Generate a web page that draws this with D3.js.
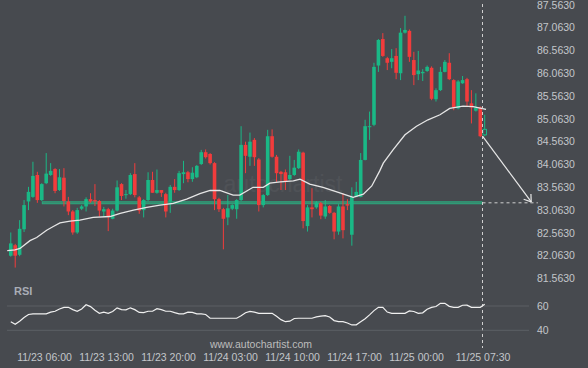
<!DOCTYPE html>
<html>
<head>
<meta charset="utf-8">
<script src="https://cdn.jsdelivr.net/npm/d3@7"></script>
<style>
  html, body { margin: 0; padding: 0; background: #474a4f; }
  svg { display: block; font-family: "Liberation Sans", Arial, sans-serif; }
</style>
</head>
<body>
<div id="chart"></div>
<script>
// 30 minute bars, first bar opens 11/23 02:00
const firstBarTime = "2023-11-23T02:00";
const barMinutes = 30;

const opens = [82.06,82.29,82.08,82.64,83.25,83.35,83.83,83.28,83.65,83.83,
  83.96,83.50,83.77,83.25,83.03,82.57,83.09,83.14,83.30,83.28,
  83.26,83.03,83.08,82.87,83.05,83.63,83.39,83.41,83.85,83.34,
  83.06,83.28,83.72,83.44,83.50,83.41,83.25,83.57,83.50,83.85,
  83.89,83.74,83.78,84.07,84.33,84.29,84.09,83.30,83.08,82.90,
  83.09,83.08,83.28,84.49,84.23,84.60,84.17,83.17,83.39,84.68,
  84.23,83.90,83.89,83.74,83.83,83.98,84.32,82.71,83.12,83.12,
  83.21,82.92,83.15,83.00,82.59,83.14,83.19,82.52,83.35,83.35,
  84.16,84.89,84.93,86.23,86.81,86.39,86.31,86.44,86.06,86.95,
  86.99,86.35,86.04,86.06,86.11,86.18,85.49,85.69,86.09,86.29,
  85.91,85.29,85.84,85.93,85.40,85.24,85.31,84.71];
const highs = [82.57,82.32,82.84,83.28,83.57,84.12,83.90,83.65,84.31,84.09,
  83.98,83.96,83.98,83.35,83.06,83.11,83.17,83.34,83.43,83.63,
  83.28,83.13,83.11,83.09,83.71,83.65,83.50,83.87,84.09,83.37,
  83.30,83.89,83.90,83.95,83.50,83.44,83.61,83.74,83.92,84.14,
  83.92,84.00,84.05,84.38,84.39,84.31,84.11,83.33,83.11,83.39,
  83.19,83.30,84.90,84.56,84.76,84.64,84.20,83.41,84.82,84.83,
  84.27,83.92,83.95,84.25,84.16,84.39,84.34,83.17,83.54,83.26,
  83.24,83.28,83.17,83.02,83.19,83.43,83.30,83.56,83.68,84.31,
  85.04,85.22,86.29,86.81,86.94,86.42,86.59,86.61,87.05,87.32,
  87.02,86.53,86.55,86.15,86.23,86.21,85.73,86.20,86.35,86.50,
  85.93,85.91,86.00,85.96,85.69,85.62,85.33,85.15];
const lows = [82.04,81.80,82.05,82.58,83.06,83.33,83.22,83.26,83.63,83.81,
  83.43,83.48,83.14,82.95,82.52,82.54,83.06,83.03,83.22,83.15,
  82.92,82.92,82.60,82.86,83.03,83.28,83.31,83.39,83.34,82.98,
  82.90,83.26,83.44,83.42,83.35,82.90,83.00,83.44,83.48,83.65,
  83.67,83.68,83.76,84.05,84.19,84.06,83.06,83.02,82.20,82.73,
  83.06,82.87,83.26,83.87,84.03,84.03,83.03,83.12,83.37,84.21,
  83.68,83.50,83.50,83.72,83.81,83.96,82.66,82.59,82.90,83.09,
  82.86,82.87,82.98,82.42,82.52,82.44,83.06,82.28,83.34,83.34,
  84.15,84.60,84.90,86.09,86.42,86.13,86.17,85.93,85.91,86.93,
  86.31,85.80,85.91,85.89,86.09,85.47,85.44,85.67,86.08,85.91,
  85.25,85.27,85.83,85.34,84.96,85.22,84.66,84.68];
const closes = [82.33,82.06,82.65,83.17,83.46,83.81,83.28,83.63,83.86,83.92,
  83.48,83.78,83.26,83.03,82.57,83.06,83.14,83.30,83.25,83.25,
  83.05,83.08,82.92,83.05,83.56,83.37,83.41,83.83,83.39,83.05,
  83.28,83.72,83.44,83.50,83.44,83.03,83.57,83.50,83.87,83.89,
  83.74,83.88,84.03,84.33,84.22,84.09,83.30,83.08,82.87,83.10,
  83.17,83.28,84.49,84.25,84.56,84.22,83.17,83.39,84.68,84.23,
  83.87,83.85,83.68,83.83,83.99,84.34,82.82,83.12,83.08,83.23,
  82.94,83.14,83.00,82.59,83.14,82.62,83.16,83.35,83.46,84.16,
  84.90,84.90,86.20,86.79,86.44,86.29,86.39,86.07,86.95,87.01,
  86.42,86.02,86.12,86.09,86.20,85.50,85.69,86.09,86.31,85.93,
  85.31,85.88,85.91,85.44,85.31,85.31,84.68,84.83];

// moving average, read at bar positions
const maBar = [-0.8,0.95,2.08,4.33,5.85,8.1,9.6,11.1,13.4,15.6,
  18.6,22.4,24.7,27.7,30.7,33.7,36.7,39.7,42.7,45.0,
  47.2,50.2,51.7,54.7,57.0,58.5,60.8,63.8,65.3,67.5,
  70.5,73.6,75.8,77.3,79.6,81.5,83.3,84.1,86.3,89.0,
  91.6,94.2,96.9,99.1,102.1,104.4,107.3];
const maValue = [82.17,82.19,82.22,82.39,82.46,82.62,82.70,82.78,82.82,82.84,
  82.90,82.92,82.99,83.06,83.12,83.17,83.21,83.30,83.42,83.49,
  83.49,83.39,83.39,83.56,83.56,83.65,83.68,83.70,83.74,83.63,
  83.56,83.46,83.39,83.34,83.41,83.59,83.92,84.09,84.38,84.71,
  84.90,85.04,85.15,85.29,85.34,85.33,85.27];

const rsi = [47,45,47.5,50.5,53,53.5,53.5,53.5,53.5,55,
  55.7,57.5,58.9,58.9,57,55.7,57.5,61,59.5,56.5,
  54,55,54,55.5,58.5,57,56.8,58.5,57,54.7,
  54.6,55.7,55.7,57.8,57,55.7,55.7,54.5,53.5,53.5,
  55,54.8,53.5,53.5,53,49.9,49.9,49.9,49.9,49.9,
  49.9,49.9,52,54.4,55.6,55,54,54,54,54,
  51.5,48.8,47.1,47.5,49.7,49.9,49.9,49.9,49.9,51,
  51.7,52,51,48,47.1,47.1,46,44.4,44.5,47,
  49.5,52.7,56.2,58.9,58.9,55,54,54,54,54,
  55.9,55.5,54,54.4,57.3,58.9,59.6,62.2,62.2,59.7,
  58.9,58.9,60.6,60.7,58.9,58.9,58.9,61.5];

const priceTicks = [81.563,82.063,82.563,83.063,83.563,84.063,84.563,85.063,85.563,86.063,86.563,87.063,87.563];
const rsiTicks = [40, 60];
const timeTicks = ["2023-11-23T06:00","2023-11-23T13:00","2023-11-23T20:00","2023-11-24T03:00",
  "2023-11-24T10:00","2023-11-24T17:00","2023-11-25T00:00","2023-11-25T07:30"];

// pattern: support level and forecast
const supportLevel = 83.22;
const supportStart = "2023-11-23T05:45";
const signalTime = "2023-11-25T07:30";
const forecastEnd = "2023-11-25T13:00";
const forecastExtend = "2023-11-25T13:45";
const forecastTarget = 83.24;

const W = 588, H = 368;
const bg = "#474a4f", up = "#1ab886", down = "#f23c3c", txt = "#c3c6ca";

const svg = d3.select("#chart").append("svg").attr("width", W).attr("height", H);
svg.append("rect").attr("width", W).attr("height", H).attr("fill", bg);

const parse = d3.utcParse("%Y-%m-%dT%H:%M");
const t0 = parse(firstBarTime).getTime();
const barTime = i => new Date(t0 + (i * barMinutes + barMinutes / 2) * 60000);

const x = d3.scaleUtc()
  .domain([parse(timeTicks[0]), parse(timeTicks[timeTicks.length - 1])])
  .range([44, 482.5]);
const y = d3.scaleLinear().domain([81.563, 87.563]).range([278.4, 4.7]);
const yRsi = d3.scaleLinear().domain([40, 60]).range([330.3, 306]);

// watermark
svg.append("text").attr("x", 283).attr("y", 192).attr("text-anchor", "middle")
  .attr("font-size", 23).attr("fill", "#ffffff").attr("opacity", 0.045)
  .text("autochartist");

// support level
const sy = y(supportLevel);
svg.append("line").attr("x1", x(parse(supportStart))).attr("x2", x(parse(signalTime)))
  .attr("y1", sy).attr("y2", sy).attr("stroke", "#2aa87e").attr("stroke-width", 3);
svg.append("line").attr("x1", x(parse(supportStart)) + 1).attr("x2", x(parse(signalTime)))
  .attr("y1", sy).attr("y2", sy).attr("stroke", "#3d7f69").attr("stroke-width", 1);
svg.append("line").attr("x1", x(parse(signalTime))).attr("x2", x(parse(forecastExtend)))
  .attr("y1", sy).attr("y2", sy).attr("stroke", "#d0d0d0").attr("stroke-width", 1)
  .attr("stroke-dasharray", "3,3");

// candles
const bw = 3.6;
const candles = svg.append("g").selectAll("g").data(d3.range(opens.length)).enter().append("g");
candles.append("line")
  .attr("x1", i => x(barTime(i))).attr("x2", i => x(barTime(i)))
  .attr("y1", i => y(highs[i])).attr("y2", i => y(lows[i]))
  .attr("stroke", i => closes[i] >= opens[i] ? up : down).attr("stroke-width", 1);
candles.append("rect")
  .attr("x", i => x(barTime(i)) - bw / 2)
  .attr("y", i => y(Math.max(opens[i], closes[i])))
  .attr("width", bw)
  .attr("height", i => Math.max(1, Math.abs(y(opens[i]) - y(closes[i]))))
  .attr("fill", i => i === opens.length - 1 ? bg : (closes[i] >= opens[i] ? up : down))
  .attr("stroke", i => i === opens.length - 1 ? up : "none");

// moving average
const maLine = d3.line()
  .x((d, i) => x(new Date(t0 + (maBar[i] * barMinutes + barMinutes / 2) * 60000)))
  .y(d => y(d));
svg.append("path").attr("d", maLine(maValue)).attr("fill", "none")
  .attr("stroke", "#e6e6e6").attr("stroke-width", 1.3);

// signal line and forecast arrow
svg.append("line").attr("x1", x(parse(signalTime))).attr("x2", x(parse(signalTime)))
  .attr("y1", 4).attr("y2", 348).attr("stroke", "#d0d0d0").attr("stroke-width", 1)
  .attr("stroke-dasharray", "3,3");

const ax0 = x(parse(signalTime)), ay0 = y(closes[closes.length - 2]);
const ax1 = x(parse(forecastEnd)), ay1 = y(forecastTarget);
svg.append("line").attr("x1", ax0).attr("y1", ay0).attr("x2", ax1).attr("y2", ay1)
  .attr("stroke", "#e8e8e8").attr("stroke-width", 1.2);
const ang = Math.atan2(ay1 - ay0, ax1 - ax0) + Math.PI;
[-0.6, 0.6].forEach(a => {
  svg.append("line").attr("x1", ax1).attr("y1", ay1)
    .attr("x2", ax1 + 8 * Math.cos(ang + a)).attr("y2", ay1 + 8 * Math.sin(ang + a))
    .attr("stroke", "#e8e8e8").attr("stroke-width", 1.2);
});

// price axis
const yAxis = svg.append("g").attr("transform", "translate(537,0)")
  .call(d3.axisRight(y).tickValues(priceTicks).tickFormat(d3.format(".4f")).tickSize(0).tickPadding(0));
yAxis.select(".domain").remove();
yAxis.selectAll("text").attr("fill", txt).attr("font-size", 10.5).attr("font-family", "Liberation Sans, Arial, sans-serif");

// RSI panel
svg.selectAll(".rsiGrid").data(rsiTicks).enter().append("line")
  .attr("x1", 7).attr("x2", 529).attr("y1", d => yRsi(d)).attr("y2", d => yRsi(d))
  .attr("stroke", "#5c5f64").attr("stroke-width", 1);
const rAxis = svg.append("g").attr("transform", "translate(537,0)")
  .call(d3.axisRight(yRsi).tickValues(rsiTicks).tickSize(0).tickPadding(0));
rAxis.select(".domain").remove();
rAxis.selectAll("text").attr("fill", txt).attr("font-size", 10.5).attr("font-family", "Liberation Sans, Arial, sans-serif");

svg.append("text").attr("x", 14).attr("y", 295).attr("font-size", 11).attr("font-weight", "bold")
  .attr("fill", "#a9adb6").text("RSI");

const rsiLine = d3.line().x((d, i) => x(barTime(i))).y(d => yRsi(d));
svg.append("path").attr("d", rsiLine(rsi)).attr("fill", "none")
  .attr("stroke", "#f0f0f0").attr("stroke-width", 1.2);

// time axis
const fmt = d3.utcFormat("%m/%d %H:%M");
const xAxis = svg.append("g").attr("transform", "translate(0,353.5)")
  .call(d3.axisBottom(x).tickValues(timeTicks.map(parse)).tickFormat(fmt).tickSize(0).tickPadding(0));
xAxis.select(".domain").remove();
xAxis.selectAll("text").attr("fill", txt).attr("font-size", 10.5).attr("font-family", "Liberation Sans, Arial, sans-serif");

svg.append("text").attr("x", 261).attr("y", 348).attr("text-anchor", "middle")
  .attr("font-size", 10.5).attr("fill", "#bdbdbd").text("www.autochartist.com");
</script>
</body>
</html>
